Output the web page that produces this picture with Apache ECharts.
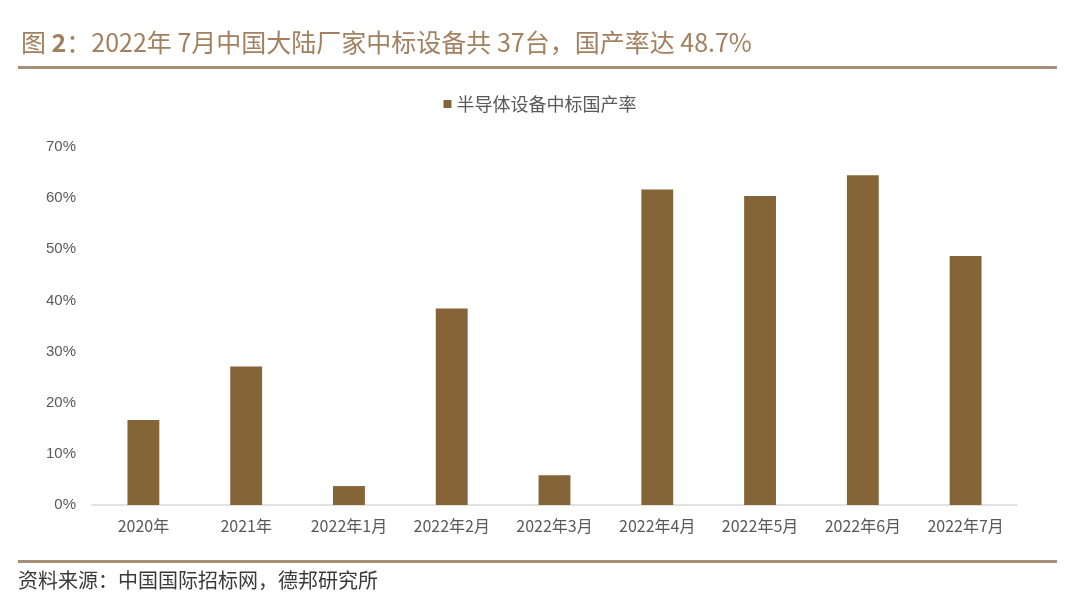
<!DOCTYPE html>
<html>
<head>
<meta charset="utf-8">
<script src="https://cdn.jsdelivr.net/npm/echarts@6/dist/echarts.min.js"></script>
<style>
  html, body { margin: 0; padding: 0; background: #fff; }
  #main { width: 1080px; height: 597px; }
</style>
</head>
<body>
<div id="main"></div>
<script>
// 数据
var categories = ['2020年', '2021年', '2022年1月', '2022年2月', '2022年3月', '2022年4月', '2022年5月', '2022年6月', '2022年7月'];
var rateValues = [16.6, 27.1, 3.7, 38.4, 5.8, 61.7, 60.4, 64.5, 48.7];
var yTicks = [0, 10, 20, 30, 40, 50, 60, 70];

var cjk = '"Noto Sans CJK SC", "Liberation Sans", sans-serif';
var myChart = echarts.init(document.getElementById('main'));

var option = {
    backgroundColor: '#fff',
    animation: false,
    title: {
        text: '图 {b|2}：2022年 7月中国大陆厂家中标设备共 37台，国产率达 48.7%',
        left: 16,
        top: 25,
        textStyle: {
            fontFamily: cjk,
            fontSize: 25,
            fontWeight: 'normal',
            color: '#a3805f',
            rich: {
                b: { fontFamily: cjk, fontSize: 25, fontWeight: 'bold', color: '#a3805f' }
            }
        }
    },
    legend: {
        top: 90,
        left: 'center',
        itemWidth: 8,
        itemHeight: 8,
        itemGap: 10,
        icon: 'rect',
        data: ['半导体设备中标国产率'],
        textStyle: { fontFamily: cjk, fontSize: 18, color: '#595959' }
    },
    grid: {
        left: 92,
        right: 63,
        top: 147,
        bottom: 92
    },
    xAxis: {
        type: 'category',
        data: categories,
        axisTick: { show: false },
        axisLine: { lineStyle: { color: '#d9d9d9', width: 1.5 } },
        axisLabel: {
            interval: 0,
            margin: 13,
            fontFamily: cjk,
            fontSize: 16,
            color: '#595959'
        }
    },
    yAxis: {
        type: 'value',
        min: 0,
        max: 70,
        interval: 10,
        splitLine: { show: false },
        axisLine: { show: false },
        axisTick: { show: false },
        axisLabel: {
            margin: 16,
            fontFamily: '"Liberation Sans", Arial, sans-serif',
            fontSize: 15,
            color: '#595959',
            formatter: function (v) {
                return yTicks.indexOf(v) >= 0 ? v + '%' : '';
            }
        }
    },
    series: [{
        name: '半导体设备中标国产率',
        type: 'bar',
        barWidth: '31%',
        itemStyle: { color: '#856437' },
        data: rateValues
    }],
    graphic: [
        {
            type: 'rect',
            shape: { x: 18, y: 66, width: 1039, height: 3 },
            style: { fill: '#a89078' }
        },
        {
            type: 'rect',
            shape: { x: 18, y: 560, width: 1039, height: 3 },
            style: { fill: '#a89078' }
        },
        {
            type: 'text',
            left: 18,
            top: 570,
            style: {
                text: '资料来源：中国国际招标网，德邦研究所',
                font: '20px "Noto Sans CJK SC", sans-serif',
                fill: '#3a3a3a'
            }
        }
    ]
};

myChart.setOption(option);
</script>
</body>
</html>
